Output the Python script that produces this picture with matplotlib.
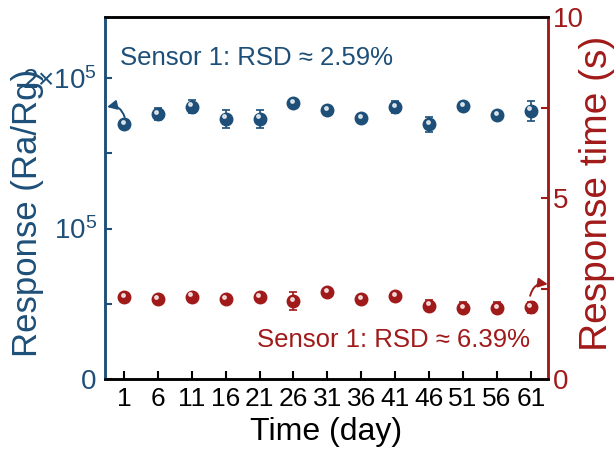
import numpy as np
import matplotlib.pyplot as plt
import matplotlib.transforms as mtransforms

plt.rcParams['font.family'] = ['Liberation Sans', 'DejaVu Sans']
plt.rcParams['mathtext.fontset'] = 'custom'
plt.rcParams['mathtext.rm'] = 'Liberation Sans'

blue = "#1d4f78"
red = "#a11a1a"

days = [1, 6, 11, 16, 21, 26, 31, 36, 41, 46, 51, 56, 61]
# response (x1e5) and error
resp = [1.694, 1.761, 1.809, 1.730, 1.730, 1.832, 1.787, 1.732, 1.805, 1.692, 1.814, 1.754, 1.783]
resp_err = [0.02, 0.04, 0.043, 0.06, 0.06, 0.015, 0.015, 0.01, 0.04, 0.05, 0.015, 0.015, 0.066]
# response time (s) and error
rtime = [2.27, 2.21, 2.28, 2.21, 2.27, 2.15, 2.41, 2.21, 2.29, 2.03, 1.97, 1.97, 1.98]
rtime_err = [0.03, 0.03, 0.03, 0.03, 0.03, 0.25, 0.03, 0.03, 0.03, 0.15, 0.15, 0.15, 0.15]

x = np.arange(len(days))
resp_abs = np.array(resp) * 1e5
resp_err_abs = np.array(resp_err) * 1e5

fig = plt.figure(figsize=(6.15, 4.54), dpi=100)
ax = fig.add_axes([0.1707, 0.165, 0.72, 0.7976])
ax2 = ax.twinx()

ax.errorbar(x, resp_abs, yerr=resp_err_abs, fmt='o', color=blue, ms=9,
            capsize=3, elinewidth=1.2, capthick=1.2, zorder=3)
ax2.errorbar(x, rtime, yerr=rtime_err, fmt='o', color=red, ms=9,
             capsize=3, elinewidth=1.2, capthick=1.2, zorder=3)

# glossy highlight on markers
hl = mtransforms.offset_copy(ax.transData, fig=fig, x=-1.0, y=1.6, units='points')
ax.plot(x, resp_abs, 'o', color='white', ms=2.5, alpha=0.75, transform=hl, zorder=4)
hl2 = mtransforms.offset_copy(ax2.transData, fig=fig, x=-1.0, y=1.6, units='points')
ax2.plot(x, rtime, 'o', color='white', ms=2.5, alpha=0.75, transform=hl2, zorder=4)

ax.set_xlim(-0.56, 12.5)
ax.set_ylim(0, 2.405e5)
ax2.set_ylim(0, 10)

ax.set_xticks(x)
ax.set_xticklabels([str(d) for d in days])
ax.set_yticks([0, 1e5, 2e5])
ax.set_yticklabels(['0', r'$\mathregular{10^5}$', r'$\mathregular{2{\times}10^5}$'])
ax.set_yticks([0.5e5, 1.5e5], minor=True)
ax2.set_yticks([0, 5, 10])
ax2.set_yticklabels(['0', '5', '10'])
ax2.set_yticks([2.5, 7.5], minor=True)

ax.tick_params(axis='x', direction='in', length=6, width=1.5, labelsize=19, pad=6, colors='black')
ax.tick_params(axis='y', which='both', direction='in', length=5, width=1.5,
               labelsize=20, colors=blue, pad=6)
ax2.tick_params(axis='y', which='both', direction='in', length=5, width=1.5,
                labelsize=20, colors=red, pad=4)

for a in (ax, ax2):
    for s in a.spines.values():
        s.set_linewidth(1.8)
ax2.spines['left'].set_color(blue)
ax2.spines['right'].set_color(red)
ax2.spines['top'].set_color('black')
ax2.spines['bottom'].set_color('black')
ax.spines['left'].set_color(blue)
ax.spines['right'].set_color(red)

ax.set_xlabel('Time (day)', fontsize=23, labelpad=4)
ax.set_ylabel('Response (Ra/Rg)', fontsize=25, color=blue)
ax.yaxis.set_label_coords(-0.138, 0.459)
ax2.set_ylabel('Response time (s)', fontsize=28, color=red)
ax2.yaxis.set_label_coords(1.07, 0.514)

ax.text(0.035, 0.867, 'Sensor 1: RSD ≈ 2.59%', transform=ax.transAxes,
        fontsize=18.5, color=blue, ha='left', va='baseline')
ax2.text(0.96, 0.088, 'Sensor 1: RSD ≈ 6.39%', transform=ax2.transAxes,
         fontsize=18.5, color=red, ha='right', va='baseline')

ax.annotate('', xy=(-0.5, 1.807e5), xytext=(0.02, 1.74e5),
            arrowprops=dict(arrowstyle='-|>', color=blue, lw=1.4,
                            connectionstyle='arc3,rad=0.45', mutation_scale=14,
                            shrinkA=0, shrinkB=0))
ax2.annotate('', xy=(12.5, 2.62), xytext=(11.98, 2.3),
             arrowprops=dict(arrowstyle='-|>', color=red, lw=1.4,
                             connectionstyle='arc3,rad=-0.45', mutation_scale=14,
                             shrinkA=0, shrinkB=0))

fig.savefig('out.png', dpi=100)
